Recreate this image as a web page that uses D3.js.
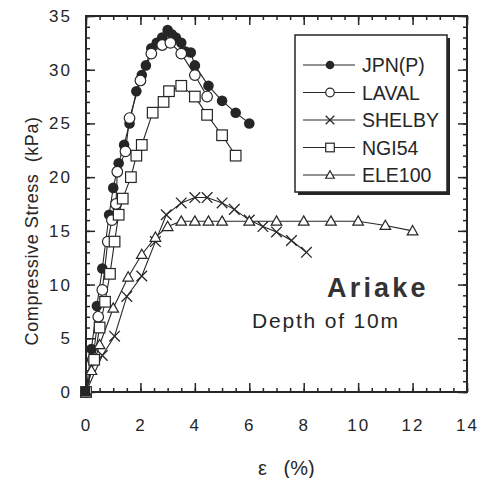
<!DOCTYPE html>
<html>
<head>
<meta charset="utf-8">
<script src="https://cdn.jsdelivr.net/npm/d3@7"></script>
<style>
  body { margin: 0; background: #fff; }
  svg { font-family: "Liberation Sans", Arial, sans-serif; }
</style>
</head>
<body>
<div id="chart"></div>
<script>
// data: [strain %, stress kPa]
const jpn = [[0,0],[0.2,4],[0.4,8],[0.6,11.5],[0.85,16.5],[1.0,19],[1.2,21.3],[1.4,23],[1.6,25],[1.85,28],[2.05,29.5],[2.2,30.4],[2.4,32],[2.6,32.5],[2.8,33],[3.0,33.7],[3.15,33.3],[3.3,33],[3.5,32.5],[3.65,31.7],[3.85,31.6],[4.0,30.4],[4.5,28.5],[5.0,27.1],[5.5,26],[6.0,25]];
const laval = [[0,0],[0.25,3],[0.45,7],[0.6,9.5],[0.8,14],[0.95,16],[1.1,17.5],[1.15,20.5],[1.45,22.4],[1.6,25.5],[2.0,29],[2.4,31.5],[2.8,32.3],[3.1,32.5],[3.5,31.5],[4.0,29.5],[4.45,27.5]];
const shelby = [[0,0],[0.6,3.4],[1.05,5.2],[1.5,8.9],[2.05,10.8],[2.55,14],[2.95,16.5],[3.5,17.6],[4.0,18.1],[4.45,18.1],[5.0,17.6],[5.45,17],[6.0,16],[6.5,15.4],[7.0,14.9],[7.55,14.1],[8.1,13]];
const ngi54 = [[0,0],[0.3,3],[0.5,6],[0.7,8.4],[0.88,11],[1.05,14],[1.2,16.5],[1.35,18],[1.65,20],[1.85,22],[2.05,23],[2.45,26],[2.85,27],[3.05,28],[3.5,28.5],[4.0,27.5],[4.45,25.8],[5.0,23.9],[5.5,22]];
const ele100 = [[0,0],[0.2,2],[0.5,4.4],[1.0,7.8],[1.55,10.7],[2.05,12.8],[2.55,14.4],[3.0,15.4],[3.5,15.9],[4.0,15.9],[4.5,15.9],[5.0,15.9],[6.0,15.9],[7.0,15.9],[8.0,15.9],[9.0,15.9],[10.0,15.9],[11.0,15.5],[12.0,15]];

const seriesNames = ["JPN(P)", "LAVAL", "SHELBY", "NGI54", "ELE100"];
const seriesMarks = ["dot", "circle", "cross", "square", "triangle"];
const xTicks = [0, 2, 4, 6, 8, 10, 12, 14];
const yTicks = [0, 5, 10, 15, 20, 25, 30, 35];

const allSeries = [jpn, laval, shelby, ngi54, ele100];
const ink = "#262626";

const margin = {top: 16, right: 13, bottom: 86, left: 86},
  width = 480 - margin.left - margin.right,
  height = 478 - margin.top - margin.bottom;

const svg = d3.select("#chart")
  .append("svg")
  .attr("width", 480)
  .attr("height", 478)
  .append("g")
  .attr("transform", `translate(${margin.left}, ${margin.top})`);

const x = d3.scaleLinear().domain([0, 14]).range([0, width]);
const y = d3.scaleLinear().domain([0, 35]).range([height, 0]);

// minor ticks, all four sides, pointing inward
const xMinor = d3.range(0, 14.01, 0.5);
const yMinor = d3.range(0, 35.01, 1);
svg.append("g").attr("transform", `translate(0, ${height})`)
  .call(d3.axisBottom(x).tickValues(xMinor).tickSize(-4).tickFormat(""));
svg.append("g")
  .call(d3.axisTop(x).tickValues(xMinor).tickSize(-4).tickFormat(""));
svg.append("g")
  .call(d3.axisLeft(y).tickValues(yMinor).tickSize(-4).tickFormat(""));
svg.append("g").attr("transform", `translate(${width}, 0)`)
  .call(d3.axisRight(y).tickValues(yMinor).tickSize(-4).tickFormat(""));

// major ticks
svg.append("g").attr("class", "xaxis").attr("transform", `translate(0, ${height})`)
  .call(d3.axisBottom(x).tickValues(xTicks).tickSize(-9).tickPadding(27));
svg.append("g")
  .call(d3.axisTop(x).tickValues(xTicks).tickSize(-9).tickFormat(""));
svg.append("g").attr("class", "yaxis")
  .call(d3.axisLeft(y).tickValues(yTicks).tickSize(-9).tickPadding(14));
svg.append("g").attr("transform", `translate(${width}, 0)`)
  .call(d3.axisRight(y).tickValues(yTicks).tickSize(-9).tickFormat(""));

svg.selectAll(".domain").remove();
svg.selectAll(".tick line").attr("stroke", ink).attr("stroke-width", 1.5);
svg.selectAll(".xaxis text, .yaxis text")
  .attr("fill", ink)
  .style("font-size", "17px")
  .style("letter-spacing", "2px");

// frame
svg.append("rect")
  .attr("width", width).attr("height", height)
  .attr("fill", "none").attr("stroke", ink).attr("stroke-width", 2);

// axis titles
svg.append("text")
  .attr("x", 258 - margin.left).attr("y", height + 83)
  .attr("fill", ink)
  .style("font-size", "20px")
  .style("white-space", "pre")
  .text("ε   (%)");

svg.append("text")
  .attr("transform", `translate(${-48}, ${y(15)}) rotate(-90)`)
  .attr("text-anchor", "middle")
  .attr("fill", ink)
  .style("font-size", "18px")
  .style("letter-spacing", "0.6px")
  .style("white-space", "pre")
  .text("Compressive Stress  (kPa)");

// markers
function drawMark(g, kind, r) {
  if (kind === "dot") {
    g.append("circle").attr("r", r).attr("fill", ink);
  } else if (kind === "circle") {
    g.append("circle").attr("r", r).attr("fill", "#fff").attr("stroke", ink).attr("stroke-width", 1.2);
  } else if (kind === "square") {
    g.append("rect").attr("x", -r).attr("y", -r).attr("width", 2 * r).attr("height", 2 * r)
      .attr("fill", "#fff").attr("stroke", ink).attr("stroke-width", 1.2);
  } else if (kind === "triangle") {
    g.append("path").attr("d", `M0,${-r}L${r},${r * 0.75}L${-r},${r * 0.75}Z`)
      .attr("fill", "#fff").attr("stroke", ink).attr("stroke-width", 1.2);
  } else if (kind === "cross") {
    g.append("path").attr("d", `M${-r},${-r}L${r},${r}M${-r},${r}L${r},${-r}`)
      .attr("stroke", ink).attr("stroke-width", 1.3);
  }
}

const line = d3.line().x(d => x(d[0])).y(d => y(d[1]));

allSeries.forEach(function(data, i) {
  svg.append("path")
    .datum(data)
    .attr("d", line)
    .attr("fill", "none")
    .attr("stroke", ink)
    .attr("stroke-width", 1.1);
});

allSeries.forEach(function(data, i) {
  svg.append("g").selectAll("g")
    .data(data)
    .enter()
    .append("g")
    .attr("transform", d => `translate(${x(d[0])}, ${y(d[1])})`)
    .each(function() { drawMark(d3.select(this), seriesMarks[i], 5.3); });
});

// black blob at the origin
svg.append("rect")
  .attr("x", x(0) - 5).attr("y", y(0) - 5).attr("width", 9).attr("height", 9)
  .attr("fill", ink);

// legend
const lg = svg.append("g").attr("transform", `translate(${295 - margin.left}, ${35 - margin.top})`);
lg.append("rect").attr("x", 3).attr("y", 3).attr("width", 152).attr("height", 157).attr("fill", ink);
lg.append("rect").attr("width", 152).attr("height", 157)
  .attr("fill", "#fff").attr("stroke", ink).attr("stroke-width", 1.5);

seriesNames.forEach(function(name, i) {
  const row = lg.append("g").attr("transform", `translate(0, ${30 + i * 27.5})`);
  row.append("line").attr("x1", 8).attr("x2", 60).attr("stroke", ink).attr("stroke-width", 1.1);
  const m = row.append("g").attr("transform", "translate(35, 0)");
  drawMark(m, seriesMarks[i], 4.3);
  row.append("text")
    .attr("x", 67).attr("y", 7)
    .attr("fill", ink)
    .style("font-size", "19.5px")
    .text(name);
});

// annotations
svg.append("text")
  .attr("x", 327 - margin.left).attr("y", 297 - margin.top)
  .attr("fill", "#333")
  .style("font-size", "27px")
  .style("font-weight", "bold")
  .style("letter-spacing", "3.2px")
  .text("Ariake");

svg.append("text")
  .attr("x", 252 - margin.left).attr("y", 328 - margin.top)
  .attr("fill", ink)
  .style("font-size", "21px")
  .style("letter-spacing", "1.8px")
  .style("white-space", "pre")
  .text("Depth of 10m");
</script>
</body>
</html>
